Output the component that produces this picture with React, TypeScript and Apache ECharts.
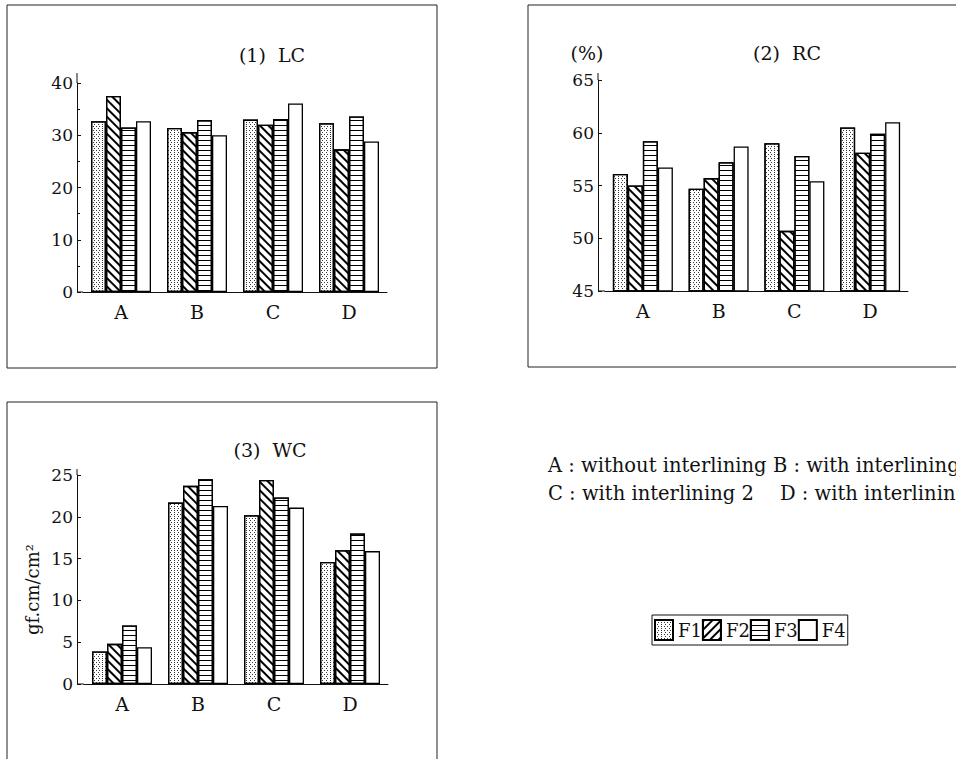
import React, { useEffect, useRef } from 'react';
import * as echarts from 'echarts';

// ---- data ----
const categories = ['A', 'B', 'C', 'D'];
const seriesNames = ['F1', 'F2', 'F3', 'F4'];

// (1) LC
const lcF1 = [32.7, 31.4, 33.0, 32.3];
const lcF2 = [37.5, 30.6, 32.0, 27.3];
const lcF3 = [31.5, 32.9, 33.1, 33.6];
const lcF4 = [32.7, 30.0, 36.1, 28.8];

// (2) RC (%)
const rcF1 = [56.1, 54.7, 59.0, 60.5];
const rcF2 = [55.0, 55.7, 50.7, 58.1];
const rcF3 = [59.2, 57.2, 57.8, 59.9];
const rcF4 = [56.7, 58.7, 55.4, 61.0];

// (3) WC (gf.cm/cm²)
const wcF1 = [3.9, 21.7, 20.2, 14.6];
const wcF2 = [4.8, 23.7, 24.4, 16.0];
const wcF3 = [7.0, 24.5, 22.3, 18.0];
const wcF4 = [4.4, 21.3, 21.1, 15.9];

const lcValues = [lcF1, lcF2, lcF3, lcF4];
const rcValues = [rcF1, rcF2, rcF3, rcF4];
const wcValues = [wcF1, wcF2, wcF3, wcF4];

const panelTitles = ['(1)  LC', '(2)  RC', '(3)  WC'];
const rcUnit = '(%)';
const wcUnit = 'gf.cm/cm²';
const notes = [
  'A : without interlining',
  'B : with interlining 1',
  'C : with interlining 2',
  'D : with interlining 3',
];

// ---- styles ----
const FONT = '"DejaVu Serif", serif';
const INK = '#111';

const decals: any[] = [
  {
    symbol: 'rect',
    symbolSize: 1,
    color: '#333',
    dashArrayX: [[1, 2], [0, 1.5, 1, 0.5]],
    dashArrayY: [1, 1],
    rotation: 0,
  },
  { symbol: 'rect', symbolSize: 1, color: '#000', dashArrayX: [1, 0], dashArrayY: [1.2, 3.8], rotation: Math.PI / 4 },
  { symbol: 'rect', symbolSize: 1, color: '#000', dashArrayX: [1, 0], dashArrayY: [1, 3.5], rotation: 0 },
  null,
];
// the legend key of F2 is hatched the other way in the reference
const legendF2Decal = { ...decals[1], rotation: -Math.PI / 4 };

const grids = [
  { left: 83, top: 83, width: 304, height: 209 },
  { left: 605, top: 80, width: 303, height: 211 },
  { left: 84, top: 475, width: 304, height: 209 },
];

export default function App() {
  const ref = useRef<HTMLDivElement>(null);

  useEffect(() => {
    if (!ref.current) return;
    const chart = echarts.init(ref.current, null, { renderer: 'svg' });

    const xAxisBase = (gridIndex: number) => ({
      type: 'category',
      gridIndex,
      data: categories,
      axisTick: { show: false },
      axisLine: { lineStyle: { color: INK, width: 1 } },
      axisLabel: { color: INK, fontSize: 19, fontFamily: FONT, margin: 10 },
    });

    const yAxisBase = (gridIndex: number, min: number, max: number, interval: number, offset: number) => ({
      type: 'value',
      gridIndex,
      min,
      max,
      interval,
      offset,
      splitLine: { show: false },
      axisLine: { show: true, lineStyle: { color: INK, width: 1 } },
      axisTick: { show: true, inside: true, length: 4, lineStyle: { color: INK } },
      axisLabel: { color: INK, fontSize: 17, fontFamily: FONT, margin: 4 },
    });

    const allValues = [lcValues, rcValues, wcValues];
    const series: any[] = [];
    allValues.forEach((group, gi) => {
      group.forEach((vals, si) => {
        series.push({
          type: 'bar',
          name: seriesNames[si],
          xAxisIndex: gi,
          yAxisIndex: gi,
          data: vals,
          barWidth: 15,
          barGap: '0%',
          itemStyle: {
            color: '#fff',
            borderColor: '#000',
            borderWidth: 1.3,
            decal: decals[si] || undefined,
          },
          emphasis: { disabled: true },
        });
      });
    });

    const line = (x1: number, y1: number, x2: number, y2: number) => ({
      type: 'line',
      shape: { x1, y1, x2, y2 },
      style: { stroke: INK, lineWidth: 1 },
      silent: true,
    });
    const frame = (x: number, y: number, width: number, height: number) => ({
      type: 'rect',
      shape: { x, y, width, height },
      style: { fill: 'none', stroke: '#222', lineWidth: 1 },
      silent: true,
    });
    const text = (x: number, y: number, t: string, size: number, align = 'left') => ({
      type: 'text',
      x,
      y,
      style: {
        text: t,
        fill: INK,
        font: `${size}px ${FONT}`,
        textAlign: align,
        textVerticalAlign: 'middle',
      },
      silent: true,
    });

    chart.setOption({
      animation: false,
      backgroundColor: '#fff',
      grid: grids.map((g) => ({ ...g, containLabel: false })),
      xAxis: [xAxisBase(0), xAxisBase(1), xAxisBase(2)],
      yAxis: [
        {
          ...yAxisBase(0, 0, 40, 10, 6),
          minorTick: { show: true, splitNumber: 2, length: 3, lineStyle: { color: INK } },
        },
        yAxisBase(1, 45, 65, 5, 7),
        {
          ...yAxisBase(2, 0, 25, 5, 7),
          name: wcUnit,
          nameLocation: 'middle',
          nameRotate: 90,
          nameGap: 36,
          nameTextStyle: { color: INK, fontSize: 18, fontFamily: FONT, padding: [0, 20, 0, 0] },
        },
      ],
      legend: {
        data: seriesNames.map((n, i) =>
          i === 1 ? { name: n, itemStyle: { decal: legendF2Decal } } : { name: n }
        ),
        left: 652,
        top: 615,
        orient: 'horizontal',
        icon: 'rect',
        itemWidth: 18,
        itemHeight: 20,
        itemGap: 0,
        padding: [4, 2, 4, 2],
        borderColor: INK,
        borderWidth: 1,
        selectedMode: false,
        textStyle: { color: INK, fontSize: 18, fontFamily: FONT },
      },
      graphic: [
        frame(7, 5, 430, 363),
        frame(528, 5, 440, 362),
        frame(7, 402, 430, 380),
        // axis stubs
        line(77, 73, 77, 83),
        line(77, 292, 83, 292),
        line(598, 73, 598, 80),
        line(598, 291, 605, 291),
        line(77, 469, 77, 475),
        line(77, 684, 84, 684),
        // titles
        text(272, 55, panelTitles[0], 19, 'center'),
        text(787, 53, panelTitles[1], 19, 'center'),
        text(270, 450, panelTitles[2], 19, 'center'),
        text(587, 53, rcUnit, 19, 'center'),
        // notes (the reference page cuts the right-hand ones at its edge)
        text(548, 465, notes[0], 19.5),
        text(773, 465, notes[1], 19.5),
        text(548, 493, notes[2], 19.5),
        text(780, 493, notes[3], 19.5),
      ],
      series,
    });

    return () => chart.dispose();
  }, []);

  return (
    <div
      ref={ref}
      style={{ position: 'absolute', left: 0, top: 0, width: 956, height: 759, background: '#fff' }}
    />
  );
}
